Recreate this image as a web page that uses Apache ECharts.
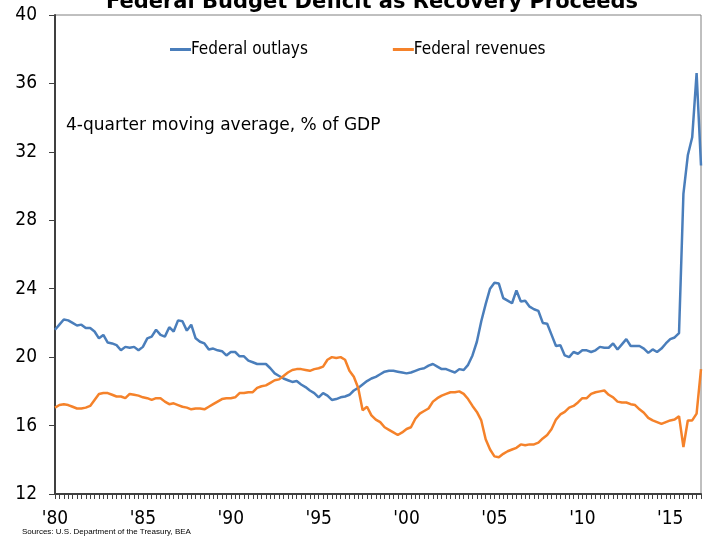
<!DOCTYPE html>
<html>
<head>
<meta charset="utf-8">
<script src="https://cdn.jsdelivr.net/npm/echarts@6/dist/echarts.min.js"></script>
<style>
html,body{margin:0;padding:0;background:#fff;}
#chart{width:706px;height:537px;}
</style>
</head>
<body>
<div id="chart"></div>
<script>
// Quarterly categories 1980Q1 .. 2016Q4
const years = [1980,1981,1982,1983,1984,1985,1986,1987,1988,1989,1990,1991,1992,1993,1994,1995,1996,1997,1998,1999,2000,2001,2002,2003,2004,2005,2006,2007,2008,2009,2010,2011,2012,2013,2014,2015,2016];
const quarters = ['Q1','Q2','Q3','Q4'];
const categories = [];
years.forEach(y => quarters.forEach(q => categories.push(y + q)));

const tickYears = [1980,1985,1990,1995,2000,2005,2010,2015];
const tickLabels = ["'80","'85","'90","'95","'00","'05","'10","'15"];

const outlays = [
21.6,21.9,22.2,22.15,22.0,21.85,21.9,21.7,21.7,21.5,
21.1,21.3,20.85,20.8,20.7,20.4,20.6,20.55,20.6,20.4,
20.6,21.1,21.2,21.6,21.3,21.2,21.75,21.5,22.15,22.1,
21.55,21.9,21.1,20.9,20.8,20.45,20.5,20.4,20.35,20.1,
20.3,20.3,20.05,20.05,19.8,19.7,19.6,19.6,19.6,19.35,
19.05,18.9,18.75,18.65,18.55,18.6,18.4,18.25,18.05,17.9,
17.65,17.9,17.75,17.5,17.55,17.65,17.7,17.8,18.05,18.2,
18.4,18.6,18.75,18.85,19.0,19.15,19.2,19.2,19.15,19.1,
19.05,19.1,19.2,19.3,19.35,19.5,19.6,19.45,19.3,19.3,
19.2,19.1,19.3,19.25,19.55,20.1,20.9,22.1,23.1,24.0,
24.35,24.3,23.45,23.3,23.15,23.9,23.25,23.3,22.95,22.8,
22.7,22.0,21.95,21.3,20.65,20.7,20.1,20.0,20.3,20.2,
20.4,20.4,20.3,20.4,20.6,20.55,20.55,20.8,20.45,20.75,
21.05,20.65,20.65,20.65,20.5,20.25,20.45,20.3,20.5,20.8,
21.05,21.15,21.4,29.55,31.8,32.85,36.6,31.2
];

const revenues = [
17.05,17.2,17.25,17.2,17.1,17.0,17.0,17.05,17.15,17.5,
17.85,17.9,17.9,17.8,17.7,17.7,17.6,17.85,17.8,17.75,
17.65,17.6,17.5,17.6,17.6,17.4,17.25,17.3,17.2,17.1,
17.05,16.95,17.0,17.0,16.95,17.1,17.25,17.4,17.55,17.6,
17.6,17.65,17.9,17.9,17.95,17.95,18.2,18.3,18.35,18.5,
18.65,18.7,18.9,19.1,19.25,19.3,19.3,19.25,19.2,19.3,
19.35,19.45,19.85,20.0,19.95,20.0,19.85,19.2,18.85,18.2,
16.9,17.1,16.6,16.35,16.2,15.9,15.75,15.6,15.45,15.6,
15.8,15.9,16.4,16.7,16.85,17.0,17.4,17.6,17.75,17.85,
17.95,17.95,18.0,17.85,17.55,17.15,16.8,16.3,15.2,14.6,
14.2,14.15,14.35,14.5,14.6,14.7,14.9,14.85,14.9,14.9,
15.0,15.25,15.45,15.8,16.35,16.65,16.8,17.05,17.15,17.35,
17.6,17.6,17.85,17.95,18.0,18.05,17.8,17.65,17.4,17.35,
17.35,17.25,17.2,16.95,16.75,16.45,16.3,16.2,16.1,16.2,
16.3,16.35,16.55,14.75,16.3,16.3,16.7,19.3
];

const yMin = 12, yMax = 40, yStep = 4;

const FONT = 'DejaVu Sans';
const FONT_C = 'DejaVu Sans Condensed';
const labelMap = {};
tickYears.forEach((y, i) => { labelMap[y + 'Q1'] = tickLabels[i]; });

const chart = echarts.init(document.getElementById('chart'), null, {renderer: 'canvas'});
chart.setOption({
  animation: false,
  backgroundColor: '#ffffff',
  title: {
    text: 'Federal Budget Deficit as Recovery Proceeds',
    left: 367, top: -13, textAlign: 'center',
    textStyle: {fontFamily: FONT, fontWeight: 'bold', fontSize: 21, color: '#000'}
  },
  legend: {
    left: 170, top: 41, padding: 0,
    itemWidth: 21, itemHeight: 3, itemGap: 85,
    icon: 'rect',
    textStyle: {fontFamily: FONT_C, fontSize: 17, color: '#000', padding: [0,0,0,-5]},
    data: ['Federal outlays', 'Federal revenues']
  },
  grid: {
    left: 55, right: 5, top: 15, bottom: 43,
    show: true, borderColor: '#808080', borderWidth: 1, backgroundColor: 'transparent'
  },
  graphic: [
    {type: 'text', left: 66, top: 117,
     style: {text: '4-quarter moving average, % of GDP', font: '17px "' + FONT + '"', fill: '#000'}},
    {type: 'text', left: 22, top: 528,
     style: {text: 'Sources: U.S. Department of the Treasury, BEA', font: '8px "Liberation Sans"', fill: '#000'}}
  ],
  xAxis: {
    type: 'category',
    data: categories,
    boundaryGap: false,
    axisLine: {lineStyle: {color: '#404040', width: 2}},
    axisTick: {show: true, interval: 0, length: 5, lineStyle: {color: '#404040'}},
    axisLabel: {
      interval: 0, margin: 16,
      fontFamily: FONT_C, fontSize: 19, color: '#000',
      formatter: v => labelMap[v] || ''
    },
    splitLine: {show: false}
  },
  yAxis: {
    type: 'value',
    min: yMin, max: yMax, interval: yStep,
    axisLine: {show: true, lineStyle: {color: '#404040', width: 2}},
    axisTick: {show: true, length: 6, lineStyle: {color: '#404040'}},
    axisLabel: {margin: 18, fontFamily: FONT_C, fontSize: 19, color: '#000'},
    splitLine: {show: false}
  },
  series: [
    {name: 'Federal outlays', type: 'line', data: outlays, showSymbol: false,
     lineStyle: {color: '#4A7EBB', width: 2.5}, itemStyle: {color: '#4A7EBB'}},
    {name: 'Federal revenues', type: 'line', data: revenues, showSymbol: false,
     lineStyle: {color: '#F5822A', width: 2.5}, itemStyle: {color: '#F5822A'}}
  ]
});
</script>
</body>
</html>
